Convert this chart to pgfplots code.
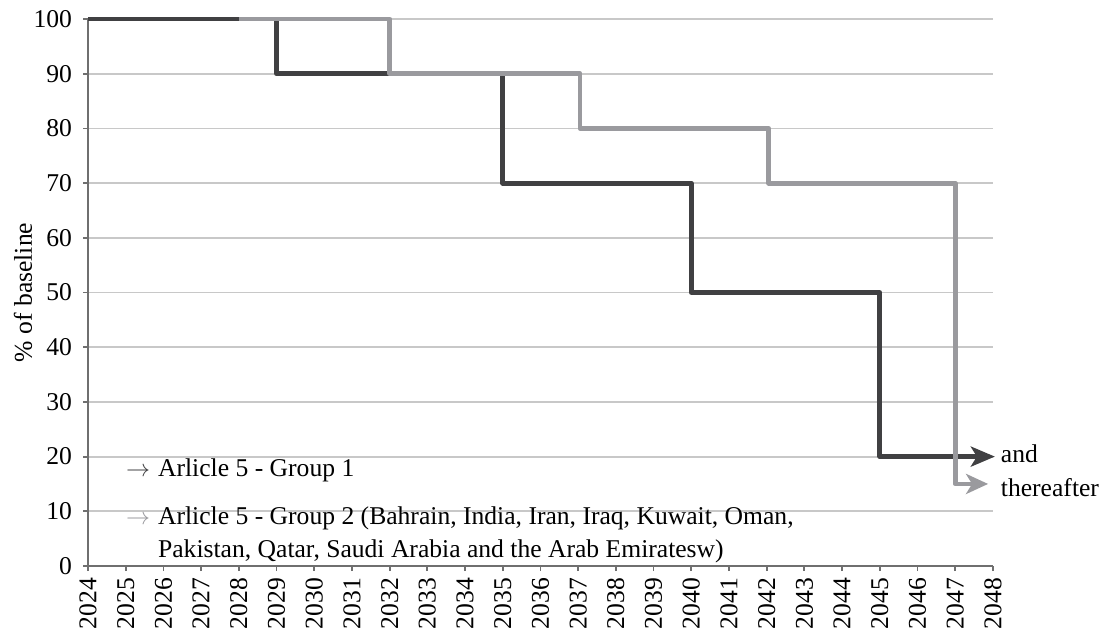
\documentclass[border=0pt]{standalone}
\usepackage{pgfplots}
\pgfplotsset{compat=1.18}
\usetikzlibrary{arrows.meta}
\usepackage{fontspec}
\setmainfont{Liberation Serif}
\definecolor{darkline}{HTML}{404042}
\definecolor{lightline}{HTML}{9A9A9E}
\definecolor{gridgray}{HTML}{C8C8C8}
\definecolor{axisgray}{HTML}{6F6F6F}
\newcommand{\lbl}{\fontsize{12.8}{15}\selectfont}

\begin{document}
\begin{tikzpicture}
\begin{axis}[
    scale only axis,
    width=452.5pt, height=273.5pt,
    xmin=2024, xmax=2048,
    ymin=0, ymax=100,
    axis x line*=bottom,
    axis y line*=left,
    axis line style={axisgray, line width=1pt},
    xtick={2024,...,2048},
    ytick={0,10,...,100},
    tick align=outside,
    major tick length=2.5pt,
    tick style={axisgray, line width=0.9pt},
    ymajorgrids=true,
    grid style={gridgray, line width=0.9pt},
    xticklabel style={rotate=90, anchor=east, font=\lbl},
    yticklabel style={font=\lbl, xshift=-2pt},
    /pgf/number format/1000 sep={},
    /pgf/number format/assume math mode=true,
    ylabel={\% of baseline},
    ylabel style={font=\lbl, at={(rel axis cs:0,0.5)}, anchor=center, yshift=32.5pt},
    clip=false,
]
\addplot[darkline, line width=2.4pt, line join=round, -{Stealth[length=12pt, width=10pt, inset=3pt]}]
    coordinates {(2024,100)(2029,100)(2029,90)(2035,90)(2035,70)(2040,70)(2040,50)(2045,50)(2045,20)(2048.05,20)};
\addplot[lightline, line width=2.4pt, line join=round, -{Stealth[length=11pt, width=10pt, inset=3pt]}]
    coordinates {(2028,100)(2032,100)(2032,90)(2037.05,90)(2037.05,80)(2042.05,80)(2042.05,70)(2047,70)(2047,15)(2047.87,15)};

\node[anchor=west, font=\lbl, inner sep=0pt] at (axis cs:2048.2,20.5) {and};
\node[anchor=west, font=\lbl, inner sep=0pt] at (axis cs:2048.2,14.3) {thereafter};

\node[anchor=west, font=\lbl, inner sep=0pt] at (axis cs:2025.0,17.4)
    {{\color{darkline}$\rightarrow$}\hspace{4pt}Arlicle 5 - Group 1};
\node[anchor=west, font=\lbl, inner sep=0pt] at (axis cs:2025.0,8.8)
    {{\color{lightline}$\rightarrow$}\hspace{4pt}Arlicle 5 - Group 2 (Bahrain, India, Iran, Iraq, Kuwait, Oman,};
\node[anchor=west, font=\lbl, inner sep=0pt] at (axis cs:2025.0,2.7)
    {\phantom{$\rightarrow$}\hspace{4pt}Pakistan, Qatar, Saudi Arabia and the Arab Emiratesw)};

\coordinate (SW) at (rel axis cs:0,0);
\end{axis}
\pgfresetboundingbox
\useasboundingbox ([shift={(-44pt,-31pt)}]SW) rectangle ++(552pt,314pt);
\end{tikzpicture}
\end{document}
